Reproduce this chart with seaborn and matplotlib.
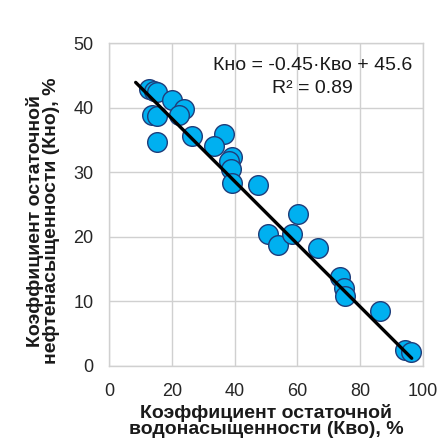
import matplotlib
matplotlib.use("Agg")
import matplotlib.pyplot as plt
import seaborn as sns
import pandas as pd

# Data
kvo = [12.7, 14.3, 15.4, 20.1, 23.9, 22.3, 13.6, 15.4, 15.4, 26.5, 36.6, 33.4,
       39.2, 38.2, 38.7, 39.2, 47.5, 60.1, 50.6, 53.8, 58.3, 66.5, 73.7, 74.8,
       75.3, 86.2, 94.4, 96.3]
kno = [42.9, 42.6, 42.4, 41.1, 39.8, 38.8, 38.8, 38.7, 34.6, 35.6, 35.9, 34.1,
       32.3, 31.8, 30.5, 28.4, 28.0, 23.6, 20.4, 18.8, 20.4, 18.2, 13.8, 12.1,
       10.8, 8.5, 2.5, 2.2]
trend_x = [8.5, 96.4]
trend_y = [43.9, 1.2]
x_ticks = [0, 20, 40, 60, 80, 100]
y_ticks = [0, 10, 20, 30, 40, 50]
equation = "Кно = -0.45·Кво + 45.6"
r2_text = "R² = 0.89"
x_label = "Коэффициент остаточной\nводонасыщенности (Кво), %"
y_label = "Коэффициент остаточной\nнефтенасыщенности (Кно), %"

sns.set_theme(style="whitegrid", rc={"grid.color": "#D0D0D0", "axes.edgecolor": "#D0D0D0"})
plt.rcParams['font.family'] = ['Liberation Sans', 'DejaVu Sans']

df = pd.DataFrame({"kvo": kvo, "kno": kno})
trend = pd.DataFrame({"x": trend_x, "y": trend_y})

fig = plt.figure(figsize=(4.4, 4.45), dpi=100)
fig.patch.set_facecolor("white")
ax = fig.add_axes([109 / 440, 1 - 366 / 445, 314 / 440, 323 / 445])

sns.scatterplot(data=df, x="kvo", y="kno", ax=ax, s=200, color="#00B0F0",
                edgecolor="#1F3D7A", linewidth=1.0, zorder=3, legend=False)
sns.lineplot(data=trend, x="x", y="y", ax=ax, color="black", linewidth=2.4,
             zorder=4, legend=False)

ax.set_xlim(0, 100)
ax.set_ylim(0, 50)
ax.set_xticks(x_ticks)
ax.set_yticks(y_ticks)
ax.grid(True, color="#D0D0D0", linewidth=1.0)
ax.set_axisbelow(True)
for sp in ax.spines.values():
    sp.set_visible(True)
    sp.set_color("#D0D0D0")
    sp.set_linewidth(1.0)
ax.tick_params(axis="x", labelsize=13, colors="#262626", length=0, pad=12)
ax.tick_params(axis="y", labelsize=13, colors="#262626", length=0, pad=11)

ax.set_xlabel(x_label, fontsize=14, fontweight="bold", color="#1a1a1a",
              linespacing=0.95)
ax.set_ylabel(y_label, fontsize=14, fontweight="bold", color="#1a1a1a",
              linespacing=0.95)
ax.xaxis.set_label_coords(0.5, -0.118)
ax.yaxis.set_label_coords(-0.156, 0.449)

ax.text(64.7, 46.5, equation, ha="center", va="center", fontsize=14, color="#1a1a1a")
ax.text(64.7, 42.9, r2_text, ha="center", va="center", fontsize=14, color="#1a1a1a")

fig.savefig("out.png", dpi=100)
